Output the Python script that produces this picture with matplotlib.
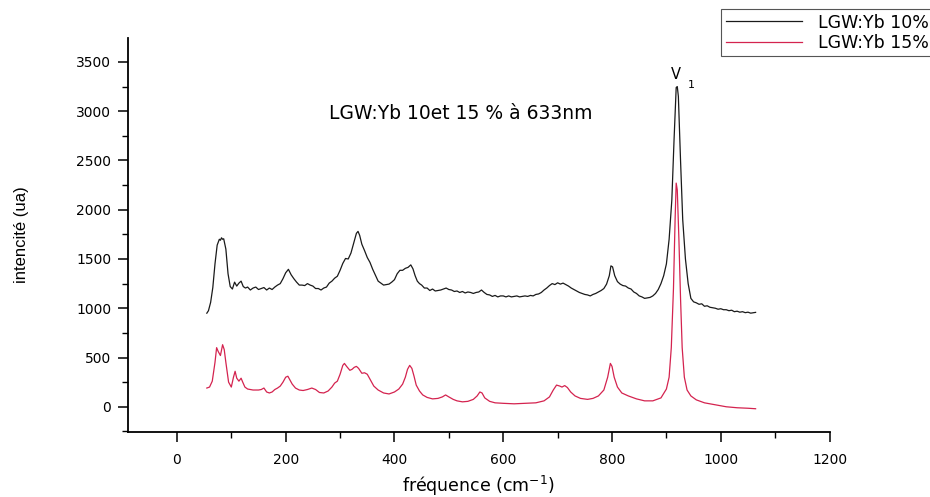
import matplotlib
matplotlib.use("Agg")
import matplotlib.pyplot as plt
from matplotlib.ticker import MultipleLocator

# Raman spectra, LGW:Yb 10 % and 15 %, excitation 633 nm: (frequency cm-1, intensity)
spectrum_10 = [
    (55, 950), (58, 975), (62, 1060), (66, 1210), (70, 1450), (74, 1640), (78, 1700),
    (80, 1690), (82, 1715), (84, 1700), (86, 1705), (90, 1600), (94, 1350), (98, 1220),
    (102, 1195), (106, 1265), (110, 1225), (114, 1255), (118, 1275), (122, 1220),
    (126, 1205), (130, 1215), (135, 1185), (140, 1205), (145, 1215), (150, 1190),
    (155, 1200), (160, 1210), (165, 1185), (170, 1205), (175, 1190), (180, 1215),
    (185, 1235), (190, 1250), (195, 1300), (200, 1360), (205, 1395), (210, 1340),
    (215, 1300), (220, 1265), (225, 1235), (230, 1235), (235, 1230), (240, 1250),
    (245, 1235), (250, 1225), (255, 1200), (260, 1200), (265, 1185), (270, 1205),
    (275, 1215), (280, 1255), (285, 1275), (290, 1305), (295, 1325), (300, 1385),
    (305, 1455), (310, 1505), (315, 1500), (320, 1560), (325, 1660), (330, 1760),
    (333, 1780), (336, 1740), (340, 1650), (345, 1585), (350, 1515), (355, 1465),
    (360, 1395), (365, 1335), (370, 1275), (375, 1255), (380, 1235), (385, 1240),
    (390, 1245), (395, 1265), (400, 1290), (405, 1350), (410, 1385), (415, 1385),
    (420, 1405), (425, 1415), (430, 1440), (434, 1400), (438, 1330), (442, 1275),
    (446, 1250), (450, 1235), (455, 1205), (460, 1205), (465, 1180), (470, 1195),
    (475, 1175), (480, 1180), (485, 1185), (490, 1195), (495, 1205), (500, 1190),
    (505, 1185), (510, 1170), (515, 1175), (520, 1160), (525, 1170), (530, 1155),
    (535, 1165), (540, 1160), (545, 1150), (550, 1160), (555, 1165), (560, 1185),
    (565, 1160), (570, 1140), (575, 1135), (580, 1120), (585, 1130), (590, 1115),
    (595, 1125), (600, 1125), (605, 1115), (610, 1125), (615, 1115), (620, 1120),
    (625, 1125), (630, 1115), (635, 1120), (640, 1125), (645, 1120), (650, 1130),
    (655, 1125), (660, 1140), (665, 1145), (670, 1160), (675, 1185), (680, 1205),
    (685, 1230), (690, 1250), (695, 1240), (700, 1258), (705, 1245), (710, 1255),
    (715, 1240), (720, 1225), (725, 1205), (730, 1190), (735, 1175), (740, 1160),
    (745, 1150), (750, 1140), (755, 1135), (760, 1125), (765, 1140), (770, 1150),
    (775, 1165), (780, 1180), (785, 1200), (790, 1245), (795, 1330), (798, 1430),
    (801, 1420), (805, 1330), (810, 1270), (815, 1245), (820, 1230), (825, 1225),
    (830, 1205), (835, 1195), (840, 1165), (845, 1150), (850, 1125), (855, 1115),
    (860, 1100), (865, 1105), (870, 1110), (875, 1125), (880, 1150), (885, 1190),
    (890, 1250), (895, 1330), (900, 1450), (905, 1700), (910, 2100), (914, 2700),
    (918, 3240), (920, 3250), (922, 3150), (926, 2500), (930, 1900), (935, 1500),
    (940, 1250), (945, 1100), (950, 1065), (955, 1055), (960, 1040), (965, 1045),
    (970, 1020), (975, 1025), (980, 1010), (985, 1005), (990, 1000), (995, 990),
    (1000, 995), (1005, 985), (1010, 985), (1015, 975), (1020, 980), (1025, 965),
    (1030, 970), (1035, 960), (1040, 965), (1045, 955), (1050, 960), (1055, 950),
    (1060, 955), (1064, 958),
]

spectrum_15 = [
    (55, 190), (60, 200), (65, 260), (70, 450), (73, 600), (76, 560), (80, 520),
    (84, 630), (87, 580), (90, 450), (95, 250), (100, 200), (104, 300), (107, 360),
    (110, 290), (114, 260), (118, 290), (121, 250), (125, 200), (130, 180), (140, 170),
    (150, 170), (155, 175), (160, 190), (165, 150), (170, 140), (175, 150), (180, 175),
    (185, 190), (190, 210), (195, 250), (200, 300), (204, 310), (208, 270), (212, 230),
    (218, 190), (225, 170), (232, 165), (240, 175), (248, 190), (255, 175), (262, 145),
    (270, 140), (278, 160), (285, 200), (290, 240), (295, 260), (300, 330), (305, 420),
    (308, 440), (312, 410), (318, 370), (322, 380), (326, 400), (330, 410), (334, 390),
    (340, 340), (345, 345), (350, 330), (356, 270), (362, 210), (370, 170), (380, 140),
    (390, 130), (400, 150), (408, 180), (415, 230), (420, 300), (424, 380), (428, 420),
    (432, 390), (436, 310), (440, 220), (446, 160), (452, 120), (460, 95), (470, 80),
    (480, 85), (488, 100), (494, 120), (500, 100), (508, 75), (515, 60), (525, 50),
    (535, 55), (545, 75), (552, 110), (557, 150), (561, 140), (566, 90), (575, 55),
    (585, 40), (600, 35), (620, 30), (640, 35), (660, 40), (675, 60), (685, 100),
    (692, 170), (698, 220), (704, 210), (708, 200), (713, 215), (718, 195), (724, 150),
    (732, 110), (742, 85), (755, 75), (765, 85), (775, 110), (785, 170), (792, 300),
    (797, 440), (800, 410), (804, 300), (810, 200), (818, 140), (830, 110), (845, 80),
    (860, 60), (875, 60), (890, 90), (900, 180), (905, 300), (909, 600), (913, 1200),
    (916, 1900), (918, 2270), (920, 2200), (923, 1700), (926, 1100), (929, 600),
    (933, 300), (938, 170), (945, 110), (955, 70), (970, 40), (990, 20), (1010, 0),
    (1030, -10), (1050, -15), (1064, -20),
]

x_ticks = [0, 200, 400, 600, 800, 1000, 1200]
y_ticks = [0, 500, 1000, 1500, 2000, 2500, 3000, 3500]
series_labels = ["LGW:Yb 10%", "LGW:Yb 15%"]

plt.rcParams["font.family"] = ["DejaVu Sans"]
wide = ["DejaVu Sans"]
narrow = ["Liberation Sans", "DejaVu Sans"]

fig = plt.figure(figsize=(9.30, 4.97), dpi=100)
ax = fig.add_axes([0.1376, 0.131, 0.7544, 0.793])

for spec, color, label in ((spectrum_10, "#1a1a1a", series_labels[0]),
                           (spectrum_15, "#d4234f", series_labels[1])):
    xs = [p[0] for p in spec]
    ys = [p[1] for p in spec]
    ax.plot(xs, ys, color=color, lw=0.9, label=label)

ax.set_xlim(-90, 1200)
ax.set_ylim(-255, 3745)
ax.set_xticks(x_ticks)
ax.set_yticks(y_ticks)
ax.xaxis.set_minor_locator(MultipleLocator(100))
ax.yaxis.set_minor_locator(MultipleLocator(250))

for side in ("top", "right"):
    ax.spines[side].set_visible(False)
for side in ("left", "bottom"):
    ax.spines[side].set_linewidth(1.3)

ax.tick_params(which="major", direction="out", length=7, width=1.1, labelsize=10, pad=5)
ax.tick_params(which="minor", direction="out", length=4, width=1.0)
ax.tick_params(axis="x", which="major", pad=8)

ax.set_xlabel("fréquence (cm$^{-1}$)", fontsize=12.5, labelpad=5, family=wide)
ax.set_ylabel("intencité (ua)", fontsize=12, labelpad=34, family=narrow)

ax.text(521, 2975, "LGW:Yb 10et 15 % à 633nm", fontsize=13.5, ha="center", va="center",
        family=wide)
ax.text(918, 3370, "V", fontsize=10.5, ha="center", va="center", family=wide)
ax.text(940, 3265, "1", fontsize=8, ha="left", va="center", family=wide)

leg = fig.legend(loc="upper right", bbox_to_anchor=(1.005, 0.985),
                 prop={"family": wide, "size": 12.5},
                 frameon=True, fancybox=False, edgecolor="#555555", framealpha=1,
                 handlelength=4.4, borderpad=0.25, labelspacing=0.15, handletextpad=0.9,
                 borderaxespad=0.1)
leg.get_frame().set_linewidth(0.8)

fig.savefig("out.png", dpi=100)
